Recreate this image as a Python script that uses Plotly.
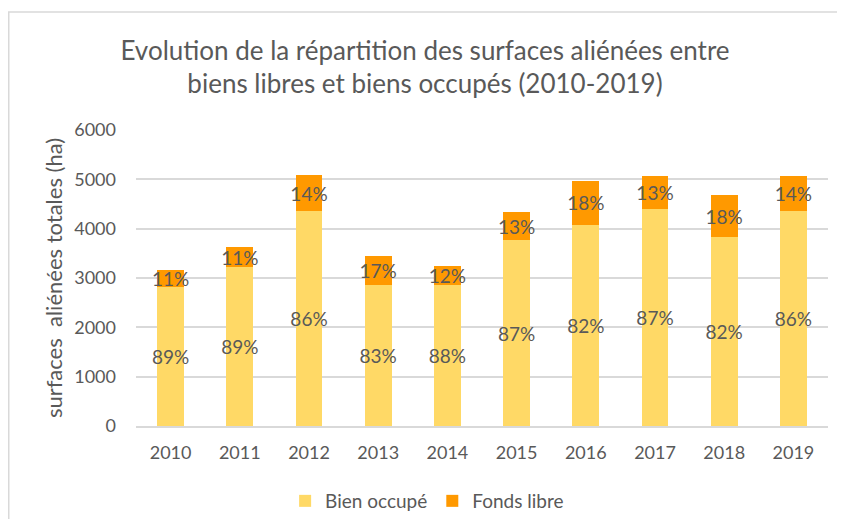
import plotly.graph_objects as go

years = ["2010", "2011", "2012", "2013", "2014", "2015", "2016", "2017", "2018", "2019"]
bien_occupe = [2810, 3220, 4360, 2860, 2850, 3770, 4080, 4390, 3830, 4360]
fonds_libre = [350, 400, 720, 580, 400, 560, 890, 670, 850, 700]
pct_occupe = ["89%", "89%", "86%", "83%", "88%", "87%", "82%", "87%", "82%", "86%"]
pct_libre = ["11%", "11%", "14%", "17%", "12%", "13%", "18%", "13%", "18%", "14%"]
y_ticks = [0, 1000, 2000, 3000, 4000, 5000, 6000]

FONT = "Lato"
GREY = "#595959"

# figure sized so that it fits inside the window with the page body's 8px margin
W, H = 829, 511
L, T, PW, PH = 128, 122, 692, 296

fig = go.Figure()
fig.add_trace(go.Bar(
    x=years, y=bien_occupe, name="Bien occupé",
    marker=dict(color="#FFD966", line=dict(width=0)),
    text=pct_occupe, textposition="inside", insidetextanchor="middle",
    textangle=0, constraintext="none", cliponaxis=False,
    textfont=dict(family=FONT, size=19, color=GREY),
))
fig.add_trace(go.Bar(
    x=years, y=fonds_libre, name="Fonds libre",
    marker=dict(color="#FF9900", line=dict(width=0)),
    text=pct_libre, textposition="inside", insidetextanchor="middle",
    textangle=0, constraintext="none", cliponaxis=False,
    textfont=dict(family=FONT, size=19, color=GREY),
))

fig.update_layout(
    barmode="stack",
    bargap=0.61,
    width=W, height=H,
    margin=dict(l=L, r=W - L - PW, t=T, b=H - T - PH, pad=0, autoexpand=False),
    paper_bgcolor="white", plot_bgcolor="white",
    font=dict(family=FONT, color=GREY, size=18),
    uniformtext=dict(minsize=19, mode="show"),
    title=dict(
        text="Evolution de la répartition des surfaces aliénées entre<br>"
             "biens libres et biens occupés (2010-2019)",
        x=417 / W, xanchor="center", y=1 - 51.5 / H, yanchor="middle",
        font=dict(family=FONT, size=26, color=GREY),
    ),
    legend=dict(
        orientation="h", x=0.4207, xanchor="center",
        yref="container", y=1 - 493 / H, yanchor="middle",
        traceorder="normal", font=dict(family=FONT, size=19, color=GREY),
        itemwidth=30,
    ),
    xaxis=dict(
        showgrid=False, showline=True, linecolor="#D9D9D9", linewidth=1.5,
        ticks="", tickfont=dict(family=FONT, size=18, color=GREY),
        ticklabelstandoff=10,
    ),
    yaxis=dict(
        range=[0, 6000], tickvals=y_ticks, showgrid=True, gridcolor="#D9D9D9",
        gridwidth=1.5, zeroline=False, showline=False,
        tickfont=dict(family=FONT, size=18, color=GREY),
        ticklabelstandoff=19,
        title=dict(text="surfaces  aliénées totales (ha)", standoff=5,
                   font=dict(family=FONT, size=22, color=GREY)),
    ),
    shapes=[dict(
        type="rect", xref="paper", yref="paper",
        x0=(0.75 - L) / PW, x1=1.1, y0=-0.5, y1=(T + PH - 4) / PH,
        line=dict(color="#D9D9D9", width=1.5), fillcolor="rgba(0,0,0,0)",
        layer="below",
    )],
)

fig.write_html("out.html")
